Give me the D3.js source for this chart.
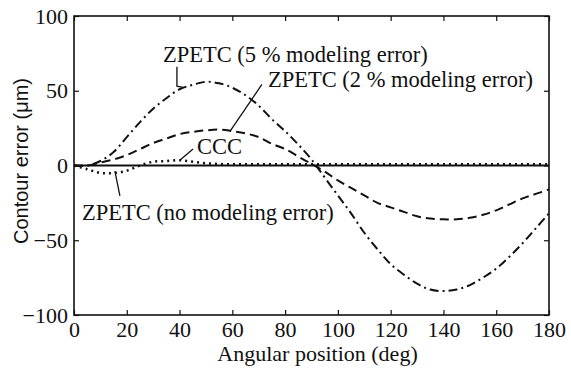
<!DOCTYPE html>
<html>
<head>
<meta charset="utf-8">
<script src="https://cdn.jsdelivr.net/npm/d3@7"></script>
<style>
  body { margin: 0; background: #fff; }
</style>
</head>
<body>
<div id="chart"></div>
<script>
// angular position (deg)
const angles = [0, 5, 10, 15, 20, 25, 30, 35, 40, 45, 50, 55, 60, 65, 70, 75, 80, 85, 90,
  95, 100, 105, 110, 115, 120, 125, 130, 135, 140, 145, 150, 155, 160, 165, 170, 175, 180];

// contour error (um)
const zpetc5 = [0, 0, 3, 9, 19, 29, 38, 45, 51, 54, 56, 55, 52, 47, 40, 31, 23, 14, 4,
  -8, -20, -32, -45, -56, -66, -73, -79, -83, -84, -83, -80, -75, -69, -61, -52, -42, -32];
const zpetc2 = [0, 0, 2, 4, 7, 11, 15, 18, 21, 22.5, 23.5, 24, 23, 21.5, 19, 14.5, 11, 6, 1,
  -4, -10, -15, -20, -25, -28, -31, -34, -35.5, -36, -36, -35, -33, -30, -26, -22, -19, -16];
const ccc = [0, -2.5, -5, -5, -3.5, 0, 2.5, 3, 3.5, 2.5, 1.5, 1, 0.8, 0.8, 0.8, 0.8, 0.8, 0.8, 0.8,
  0.8, 0.8, 0.8, 0.8, 0.8, 0.8, 0.8, 0.8, 0.8, 0.8, 0.8, 0.8, 0.8, 0.8, 0.8, 0.8, 0.8, 0.8];
const zpetcNone = [0, 0, 0, 0, 0, 0, 0, 0, 0, 0, 0, 0, 0, 0, 0, 0, 0, 0, 0,
  0, 0, 0, 0, 0, 0, 0, 0, 0, 0, 0, 0, 0, 0, 0, 0, 0, 0];

const xTicks = [0, 20, 40, 60, 80, 100, 120, 140, 160, 180];
const yTicks = [-100, -50, 0, 50, 100];

const series = [
  { name: "ZPETC (5 % modeling error)", values: zpetc5, dash: "9,4,2,4", width: 2 },
  { name: "ZPETC (2 % modeling error)", values: zpetc2, dash: "9,5", width: 2 },
  { name: "CCC", values: ccc, dash: "2,4", width: 2.5 },
  { name: "ZPETC (no modeling error)", values: zpetcNone, dash: null, width: 1.8 }
];

// label anchors and leader lines, in data units [deg, um]
const labels = [
  { text: "ZPETC (5 % modeling error)", at: [33.7, 69.4], leader: [[39, 66], [39, 53], [41.3, 52.3]] },
  { text: "ZPETC (2 % modeling error)", at: [73.5, 52.8], leader: [[71.2, 54.2], [59.1, 22.9]] },
  { text: "CCC", at: [46.6, 7.6], leader: [[45.1, 11], [40.2, 3.7]] },
  { text: "ZPETC (no modeling error)", at: [3, -36.2], leader: [[15.5, -3.7], [17.4, -20.3]] }
];

const serif = "Liberation Serif, Times New Roman, Times, serif";
const sans = "Liberation Sans, Arial, sans-serif";

const svgWidth = 571, svgHeight = 369;
const margin = { top: 16, right: 22, bottom: 54, left: 74 };
const width = svgWidth - margin.left - margin.right;
const height = svgHeight - margin.top - margin.bottom;

const svg = d3.select("#chart").append("svg")
  .attr("width", svgWidth)
  .attr("height", svgHeight);

const g = svg.append("g")
  .attr("transform", "translate(" + margin.left + "," + margin.top + ")");

const xScale = d3.scaleLinear().domain([0, 180]).range([0, width]);
const yScale = d3.scaleLinear().domain([-100, 100]).range([height, 0]);

function styleAxis(sel, showText) {
  sel.attr("font-family", serif).attr("font-size", 22);
  sel.select(".domain").remove();
  sel.selectAll(".tick line").attr("stroke", "#111").attr("stroke-width", 1.2);
  sel.selectAll(".tick text").attr("fill", "#111");
  if (!showText) sel.selectAll(".tick text").remove();
}

g.append("g")
  .attr("transform", "translate(0," + height + ")")
  .call(d3.axisBottom(xScale).tickValues(xTicks).tickSizeInner(-5).tickSizeOuter(0).tickPadding(6))
  .call(styleAxis, true);

g.append("g")
  .call(d3.axisTop(xScale).tickValues(xTicks).tickSizeInner(-5).tickSizeOuter(0))
  .call(styleAxis, false);

g.append("g")
  .call(d3.axisLeft(yScale).tickValues(yTicks).tickSizeInner(-5).tickSizeOuter(0).tickPadding(6))
  .call(styleAxis, true);

g.append("g")
  .attr("transform", "translate(" + width + ",0)")
  .call(d3.axisRight(yScale).tickValues(yTicks).tickSizeInner(-5).tickSizeOuter(0))
  .call(styleAxis, false);

// frame
g.append("rect")
  .attr("x", 0).attr("y", 0)
  .attr("width", width).attr("height", height)
  .attr("fill", "none")
  .attr("stroke", "#111")
  .attr("stroke-width", 1.6);

const line = d3.line()
  .x((d, i) => xScale(angles[i]))
  .y(d => yScale(d))
  .curve(d3.curveCatmullRom);

g.selectAll(".series")
  .data(series)
  .enter().append("path")
  .attr("class", "series")
  .attr("fill", "none")
  .attr("stroke", "#111")
  .attr("stroke-width", d => d.width)
  .attr("stroke-dasharray", d => d.dash)
  .attr("d", d => line(d.values));

const leaderLine = d3.line()
  .x(d => xScale(d[0]))
  .y(d => yScale(d[1]));

g.selectAll(".leader")
  .data(labels)
  .enter().append("path")
  .attr("class", "leader")
  .attr("fill", "none")
  .attr("stroke", "#111")
  .attr("stroke-width", 1.3)
  .attr("d", d => leaderLine(d.leader));

g.selectAll(".label")
  .data(labels)
  .enter().append("text")
  .attr("class", "label")
  .attr("x", d => xScale(d.at[0]))
  .attr("y", d => yScale(d.at[1]))
  .attr("font-family", serif)
  .attr("font-size", 22.5)
  .attr("fill", "#111")
  .text(d => d.text);

// axis titles
svg.append("text")
  .attr("x", margin.left + width / 2 + 6)
  .attr("y", 361)
  .attr("text-anchor", "middle")
  .attr("font-family", serif)
  .attr("font-size", 22)
  .attr("fill", "#111")
  .text("Angular position (deg)");

svg.append("text")
  .attr("transform", "translate(28,161) rotate(-90)")
  .attr("text-anchor", "middle")
  .attr("font-family", sans)
  .attr("font-size", 20)
  .attr("fill", "#111")
  .text("Contour error (\u03bcm)");
</script>
</body>
</html>
